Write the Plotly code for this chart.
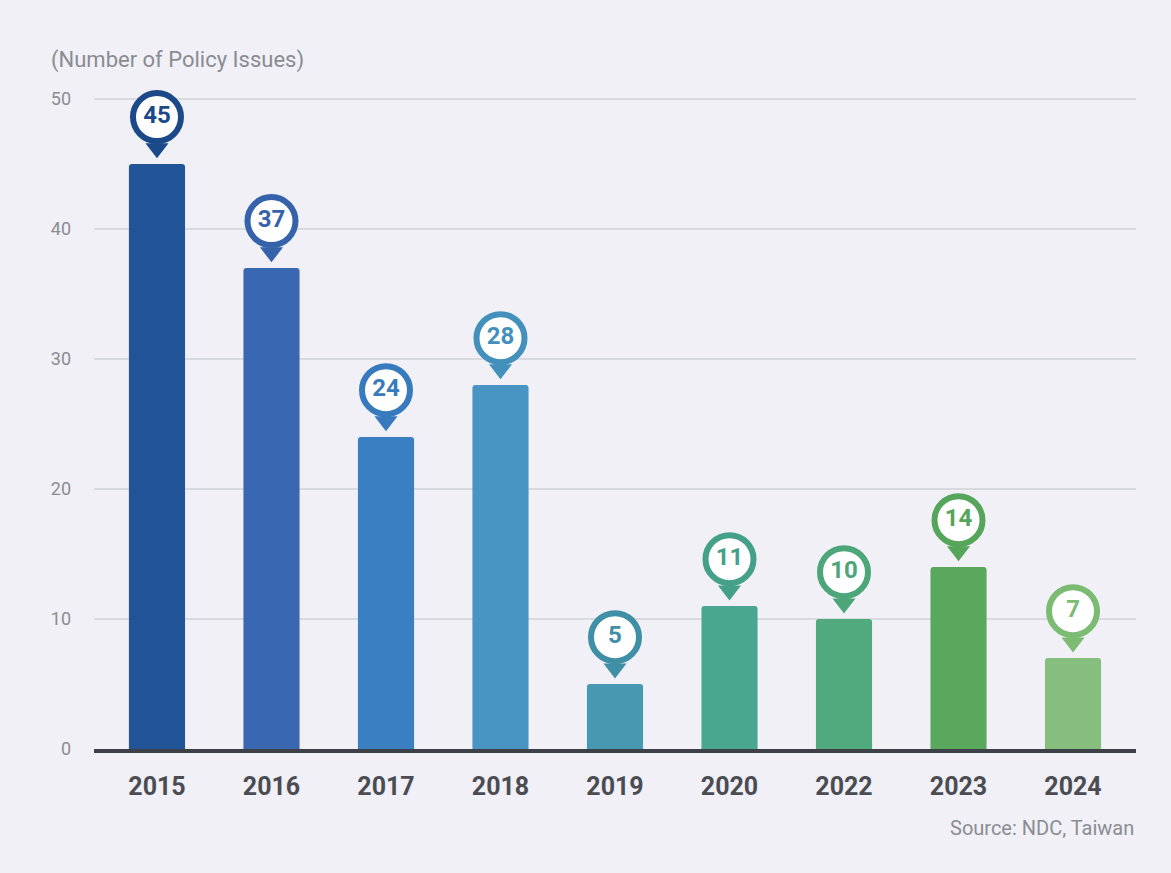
import plotly.graph_objects as go

# Policy issues per year
years = ["2015", "2016", "2017", "2018", "2019", "2020", "2022", "2023", "2024"]
issues = [45, 37, 24, 28, 5, 11, 10, 14, 7]
bar_colors = ["#215598", "#3a67b2", "#3a7fc2", "#4894c3", "#4799b2",
              "#4aa78f", "#51aa7d", "#5aa85d", "#86be7e"]
ring_colors = ["#1c4a88", "#3562ab", "#377abd", "#4390bd", "#3f8fa6",
               "#45a08a", "#4da57a", "#55a55a", "#7bbb72"]
y_ticks = [0, 10, 20, 30, 40, 50]

# vertical offsets (in axis units) of the callout pieces above each bar
bubble_offset = 3.6
pointer_offset = 1.2

fig = go.Figure()

fig.add_trace(go.Bar(
    x=years, y=issues,
    marker=dict(color=bar_colors, line=dict(width=0)),
    width=0.49,
    hoverinfo="x+y",
))

# callout pointer
fig.add_trace(go.Scatter(
    x=years, y=[v + pointer_offset for v in issues],
    mode="markers",
    marker=dict(symbol="triangle-down", size=20, color=ring_colors, line=dict(width=0)),
    hoverinfo="skip", cliponaxis=False,
))

# callout bubble with value
fig.add_trace(go.Scatter(
    x=years, y=[v + bubble_offset for v in issues],
    mode="markers+text",
    marker=dict(symbol="circle", size=48, color="white",
                line=dict(color=ring_colors, width=6)),
    text=[str(v) for v in issues],
    textposition="middle center",
    textfont=dict(family="Roboto, Arial", size=24, color=ring_colors, weight="bold"),
    hoverinfo="skip", cliponaxis=False,
))

fig.update_layout(
    width=1171, height=873,
    margin=dict(l=94, r=35, t=95, b=124),
    paper_bgcolor="#f0f0f6",
    plot_bgcolor="#f0f0f6",
    showlegend=False,
    barcornerradius=3,
    font=dict(family="Roboto, Arial", color="#888a90"),
    xaxis=dict(
        type="category",
        range=[-0.55, 8.55],
        showgrid=False,
        showline=True, linecolor="#3d4047", linewidth=4,
        ticks="",
        tickfont=dict(family="Roboto, Arial", size=25, color="#4a4c52", weight="bold"),
        ticklabelstandoff=12,
        fixedrange=True,
    ),
    yaxis=dict(
        range=[0, 50.3],
        tickvals=y_ticks,
        showgrid=True, gridcolor="#d9dae0", gridwidth=1.5,
        zeroline=False,
        ticks="",
        tickfont=dict(family="Roboto, Arial", size=18, color="#8a8c92"),
        ticklabelstandoff=22,
        fixedrange=True,
    ),
    annotations=[
        dict(text="(Number of Policy Issues)", xref="paper", yref="paper",
             x=-0.043, y=1.0535, xanchor="left", yanchor="middle", showarrow=False,
             font=dict(family="Roboto, Arial", size=22, color="#8a8c92")),
        dict(text="Source: NDC, Taiwan", xref="paper", yref="paper",
             x=1.0, y=-0.121, xanchor="right", yanchor="middle", showarrow=False,
             font=dict(family="Roboto, Arial", size=20, color="#8a8c92")),
    ],
)

fig.write_html("out.html")
